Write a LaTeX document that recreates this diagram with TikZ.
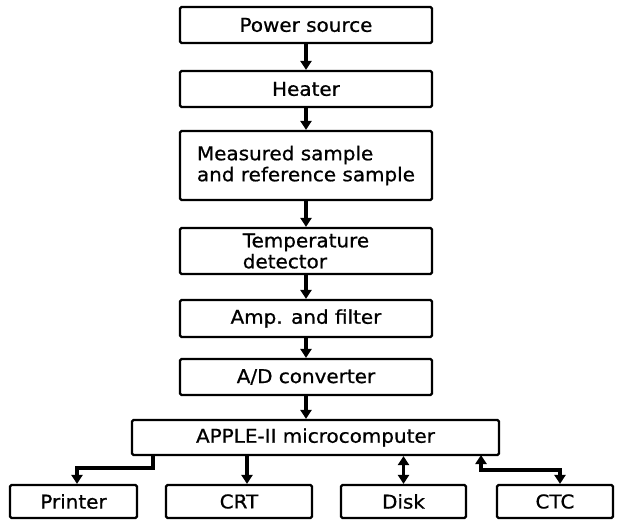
\documentclass[tikz,border=0pt]{standalone}
\usepackage{fontspec}
\setmainfont{DejaVu Sans}[FakeStretch=1.05, FakeBold=0.8]
\usetikzlibrary{arrows.meta}

\begin{document}
\begin{tikzpicture}[x=1pt, y=1pt,
    every node/.style={font=\fontsize{19}{21}\selectfont},
    box/.style={draw, line width=2.2pt, rounded corners=1.5pt, inner sep=0pt, align=left, minimum width=252pt},
    arr/.style={line width=3.5pt, -{Triangle[width=11pt,length=9pt]}},
    dbl/.style={line width=3.5pt, {Triangle[width=11pt,length=9pt]}-{Triangle[width=11pt,length=9pt]}}]
  \useasboundingbox (0,0) rectangle (617,520);
  % measuring chain
  \foreach \n/\yy/\hh/\t in {power/495/36/{Power source}, heater/431/36/{Heater},
      meas/354.5/69/{Measured sample\\and reference sample}, temp/269/46/{Temperature\\detector},
      amp/201.5/37/{Amp. and filter}, ad/143/36/{A/D converter}} {
    \node[box, minimum height=\hh pt] (\n) at (306,\yy) {\t};
  }
  \foreach \a/\b in {power/heater, heater/meas, meas/temp, temp/amp, amp/ad}
    \draw[arr] (\a) -- (\b);
  \node[box, minimum width=367pt, minimum height=35pt] (apple) at (315.5,82.5) {APPLE-II microcomputer};
  \draw[arr] (ad) -- (ad |- apple.north);
  % peripherals
  \foreach \n/\x/\w/\t in {printer/73.5/127/Printer, crt/239/146/CRT, disk/403.5/125/Disk, ctc/555/116/CTC} {
    \node[box, minimum width=\w pt, minimum height=33pt] (\n) at (\x,18.5) {\t};
  }
  \coordinate (prtout) at (153,65);
  \coordinate (crtout) at (247,65);
  \coordinate (ctcin) at (481,65);
  \draw[arr] (prtout) -- ++(0,-13) -| ([xshift=3.5pt]printer.north);
  \draw[arr] (crtout) -- (crtout |- crt.north);
  \draw[dbl] (disk.north |- apple.south) -- (disk.north);
  \draw[dbl] (ctcin) -- ++(0,-15) -| ([xshift=5pt]ctc.north);
\end{tikzpicture}
\end{document}
